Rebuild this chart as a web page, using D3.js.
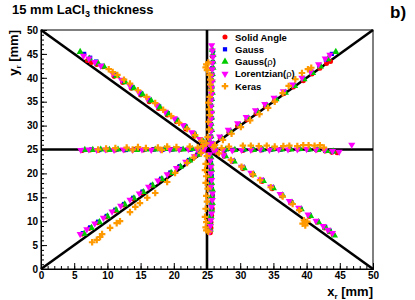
<!DOCTYPE html>
<html>
<head>
<meta charset="utf-8">
<script src="https://cdn.jsdelivr.net/npm/d3@7"></script>
<style>
body { margin: 0; background: #fff; }
svg { display: block; font-family: "Liberation Sans", Arial, sans-serif; font-weight: bold; }
</style>
</head>
<body>
<svg width="415" height="300"></svg>
<script>
// reconstructed positions [x_r, y_r] in mm, ray by ray
const solidAngle = [
  [7.0,43.6],[7.6,43.2],[8.4,42.8],[9.3,42.3],[11.0,40.3],[12.3,39.0],[13.6,37.8],[15.0,36.4],[16.3,35.0],[17.7,33.6],[19.0,32.2],[20.4,30.8],[21.8,29.3],[23.1,27.8],[24.3,26.3],
  [25.8,26.0],[27.0,27.3],[28.3,28.6],[29.6,29.9],[31.0,31.2],[32.4,32.6],[33.8,34.0],[35.2,35.3],[36.6,36.7],[38.0,38.1],[39.5,39.4],[40.8,40.8],[42.0,42.0],[43.0,43.0],[43.6,43.4],
  [6.2,7.3],[7.3,8.5],[8.5,9.7],[9.8,10.9],[11.1,12.2],[12.4,13.4],[13.8,14.7],[15.2,16.0],[16.6,17.4],[18.0,18.7],[19.4,20.0],[20.8,21.4],[22.2,22.7],[23.5,23.9],[24.5,24.8],
  [26.4,24.4],[27.6,23.6],[28.8,22.5],[30.4,21.0],[31.8,19.7],[33.3,18.3],[34.8,16.8],[36.2,15.3],[37.6,13.8],[39.0,12.4],[40.4,11.0],[41.6,9.8],[42.7,8.6],[43.4,7.8],[44.0,7.2],
  [6.2,24.8],[7.4,24.9],[8.6,24.8],[9.9,24.9],[11.2,24.9],[12.6,24.9],[14.0,25.0],[15.4,24.9],[16.8,25.0],[18.2,24.9],[19.6,25.0],[21.0,25.0],[22.4,25.0],[23.7,25.1],
  [26.2,24.9],[27.6,24.8],[29.0,24.9],[30.4,24.8],[31.8,24.9],[33.2,24.9],[34.6,25.0],[36.0,25.0],[37.4,25.0],[38.8,25.1],[40.2,25.0],[41.5,24.9],[42.8,24.7],[43.8,24.4],[44.6,24.3],
  [25.4,26.3],[25.5,27.6],[25.6,28.9],[25.5,30.2],[25.6,31.5],[25.6,32.8],[25.5,34.1],[25.6,35.4],[25.7,36.7],[25.6,38.0],[25.6,39.3],[25.7,40.6],[25.7,41.9],[25.8,43.2],[25.8,44.5],
  [25.4,23.6],[25.5,22.3],[25.6,21.0],[25.6,19.6],[25.5,18.2],[25.7,16.8],[25.8,15.4],[25.7,14.0],[25.8,12.6],[25.7,11.2],[25.6,9.8],[25.6,8.6],[25.5,7.6]
]

const gauss = [
  [6.5,45.0],[7.4,44.2],[8.3,43.4],[9.2,42.5],[11.2,40.6],[12.5,39.3],[13.8,38.0],[15.1,36.7],[16.4,35.4],[17.8,34.0],[19.1,32.6],[20.5,31.2],[21.8,29.8],[23.1,28.3],[24.3,26.8],
  [25.9,26.2],[27.1,27.5],[28.4,28.9],[29.8,30.3],[31.1,31.6],[32.5,33.0],[33.9,34.3],[35.3,35.6],[36.7,37.0],[38.1,38.4],[39.5,39.8],[40.8,41.1],[41.9,42.6],[42.9,43.8],[43.8,45.0],
  [6.3,7.5],[7.4,8.7],[8.6,9.9],[9.9,11.1],[11.2,12.4],[12.5,13.6],[13.9,14.9],[15.3,16.2],[16.7,17.6],[18.1,18.9],[19.5,20.2],[20.9,21.5],[22.3,22.8],[23.6,24.0],
  [26.5,24.6],[27.7,23.7],[29.0,22.6],[30.5,21.2],[31.9,19.9],[33.4,18.5],[34.9,17.0],[36.3,15.5],[37.7,14.0],[39.1,12.6],[40.5,11.2],[41.7,9.9],[42.8,8.8],[43.5,8.0],
  [6.4,24.9],[7.6,25.0],[8.8,24.9],[10.1,25.0],[11.4,25.0],[12.8,24.9],[14.2,25.0],[15.6,25.0],[17.0,25.0],[18.4,25.0],[19.8,25.0],[21.2,25.1],[22.6,25.0],[23.9,25.1],
  [26.3,25.0],[27.7,24.9],[29.1,24.9],[30.5,24.9],[31.9,25.0],[33.3,24.9],[34.7,25.0],[36.1,25.0],[37.5,25.1],[38.9,25.1],[40.3,25.0],[41.6,25.0],[42.9,24.8],[43.9,24.6],
  [25.5,26.4],[25.6,27.7],[25.6,29.0],[25.6,30.3],[25.7,31.6],[25.6,32.9],[25.6,34.2],[25.7,35.5],[25.7,36.8],[25.7,38.1],[25.7,39.4],[25.8,40.7],[25.8,42.0],[25.9,43.3],[25.9,44.6],[25.9,45.6],
  [25.5,23.5],[25.6,22.2],[25.6,20.9],[25.7,19.5],[25.6,18.1],[25.7,16.7],[25.8,15.3],[25.7,13.9],[25.7,12.5],[25.6,11.1],[25.5,9.7],[25.4,8.5]
]

const gaussRho = [
  [5.9,45.4],[7.3,44.0],[8.6,43.0],[9.5,42.3],[11.4,40.4],[12.7,39.1],[14.0,37.8],[15.3,36.5],[16.6,35.2],[17.9,33.8],[19.2,32.4],[20.6,31.0],[21.9,29.6],[23.2,28.1],[24.4,26.7],
  [26.0,26.1],[27.2,27.4],[28.5,28.8],[29.9,30.1],[31.2,31.5],[32.6,32.9],[34.0,34.2],[35.4,35.5],[36.8,36.9],[38.2,38.3],[39.6,39.7],[40.9,41.0],[42.1,42.4],[43.2,43.9],[44.4,45.4],
  [6.5,7.4],[7.6,8.6],[8.8,9.8],[10.0,11.0],[11.3,12.3],[12.6,13.5],[14.0,14.8],[15.4,16.1],[16.8,17.5],[18.2,18.8],[19.6,20.1],[21.0,21.4],[22.4,22.7],[23.7,23.9],
  [26.6,24.5],[27.8,23.6],[29.1,22.5],[30.6,21.1],[32.0,19.8],[33.5,18.4],[35.0,16.9],[36.4,15.4],[37.8,13.9],[39.2,12.5],[40.6,11.1],[41.8,9.8],[42.9,8.6],[43.6,7.8],[44.2,7.0],
  [6.6,24.9],[7.8,24.9],[9.0,25.0],[10.3,24.9],[11.6,25.0],[13.0,25.0],[14.4,24.9],[15.8,25.0],[17.2,25.0],[18.6,25.1],[20.0,25.0],[21.4,25.0],[22.8,25.1],[24.0,25.0],
  [26.4,24.9],[27.8,25.0],[29.2,24.9],[30.6,25.0],[32.0,24.9],[33.4,25.0],[34.8,25.0],[36.2,25.0],[37.6,25.0],[39.0,25.1],[40.4,25.0],[41.7,24.9],[43.0,24.7],[44.0,24.6],
  [25.5,26.5],[25.6,27.8],[25.7,29.1],[25.6,30.4],[25.7,31.7],[25.7,33.0],[25.6,34.3],[25.7,35.6],[25.8,36.9],[25.7,38.2],[25.8,39.5],[25.8,40.8],[25.9,42.1],[25.9,43.4],[25.9,44.8],[25.8,45.9],
  [25.6,23.4],[25.6,22.1],[25.7,20.8],[25.6,19.4],[25.7,18.0],[25.8,16.6],[25.7,15.2],[25.8,13.8],[25.7,12.4],[25.6,11.0],[25.5,9.6],[25.5,8.3]
]

const lorentzRho = [
  [6.4,44.6],[7.2,44.0],[8.1,43.3],[9.0,42.5],[10.8,40.9],[12.1,39.6],[13.4,38.3],[14.7,37.0],[16.0,35.7],[17.4,34.3],[18.7,32.9],[20.1,31.5],[21.4,30.1],[22.7,28.6],[23.9,27.2],[24.8,26.0],
  [25.7,26.3],[26.9,27.7],[28.2,29.1],[29.6,30.5],[30.9,31.8],[32.3,33.2],[33.7,34.5],[35.1,35.8],[36.5,37.2],[37.9,38.6],[39.3,40.0],[40.6,41.3],[41.8,42.8],[42.8,44.0],[43.5,44.8],
  [5.9,7.3],[6.9,8.3],[8.1,9.5],[9.4,10.7],[10.7,12.0],[12.0,13.2],[13.4,14.5],[14.8,15.8],[16.2,17.2],[17.6,18.5],[19.0,19.8],[20.4,21.1],[21.8,22.4],[23.1,23.6],[24.3,24.6],
  [26.3,24.8],[27.5,23.8],[28.7,22.7],[30.2,21.4],[31.6,20.1],[33.1,18.7],[34.6,17.2],[36.0,15.7],[37.4,14.2],[38.8,12.8],[40.2,11.4],[41.4,10.1],[42.5,9.0],[43.2,8.2],[43.9,7.5],
  [6.0,24.9],[7.2,25.0],[8.4,24.9],[9.7,25.0],[11.0,24.9],[12.4,25.0],[13.8,24.9],[15.2,25.0],[16.6,24.9],[18.0,25.0],[19.4,25.0],[20.8,25.0],[22.2,25.1],[23.5,25.0],[24.6,25.1],
  [26.0,24.9],[27.4,24.9],[28.8,24.8],[30.2,24.9],[31.6,24.9],[33.0,25.0],[34.4,24.9],[35.8,25.0],[37.2,25.0],[38.6,25.0],[40.0,25.1],[41.4,25.0],[42.7,24.9],[43.9,24.7],[44.9,24.5],[46.8,26.0],
  [25.4,26.2],[25.5,27.5],[25.6,28.8],[25.5,30.1],[25.6,31.4],[25.7,32.7],[25.6,34.0],[25.6,35.3],[25.7,36.6],[25.7,37.9],[25.8,39.2],[25.7,40.5],[25.8,41.8],[25.8,43.1],[25.9,44.4],[25.8,45.7],[25.7,46.8],
  [25.4,24.0],[25.5,22.7],[25.6,21.4],[25.6,20.0],[25.7,18.6],[25.6,17.2],[25.8,15.8],[25.8,14.4],[25.7,13.0],[25.7,11.6],[25.6,10.2],[25.5,9.0],[25.4,7.8]
]

const keras = [
  [10.2,41.8],[10.8,41.2],[11.5,40.6],[12.5,39.6],[13.4,38.8],[14.6,37.4],[15.9,36.0],[17.2,34.7],[18.4,33.3],[19.6,32.0],[20.8,30.6],[22.0,29.3],[23.2,28.0],[24.2,26.8],
  [26.2,25.9],[27.4,27.0],[28.7,28.3],[30.1,29.7],[31.5,31.1],[32.9,32.4],[34.2,33.7],[35.2,35.0],[36.4,36.8],[37.3,38.3],[38.3,39.7],[39.3,41.0],[40.2,41.8],[40.7,42.1],
  [7.7,5.6],[8.4,6.1],[8.9,6.7],[9.2,7.3],[10.4,8.6],[11.4,9.6],[11.9,10.0],[13.4,11.9],[14.2,13.0],[14.9,13.8],[16.0,14.9],[17.2,15.9],[19.0,18.2],[20.2,20.1],[22.0,22.2],[23.0,23.3],[24.1,24.3],
  [26.8,24.2],[28.6,22.8],[30.2,21.4],[31.9,19.8],[33.0,18.6],[34.6,17.1],[36.4,15.2],[37.9,13.6],[38.9,12.3],[39.4,9.5],[39.8,9.1],[40.1,9.9],[39.6,10.2],
  [8.6,25.0],[9.8,25.2],[11.2,25.3],[12.9,25.4],[14.6,25.5],[15.8,25.3],[17.6,25.4],[19.0,25.6],[20.4,25.5],[22.4,25.6],[23.6,25.4],[24.4,25.7],[13.8,25.0],[18.2,24.9],
  [26.0,25.5],[27.2,25.3],[28.3,25.6],[30.4,25.8],[31.6,25.8],[32.8,25.7],[34.0,25.8],[35.2,25.6],[36.5,25.7],[37.4,25.8],[38.6,25.7],[39.5,25.9],[40.3,25.9],[41.2,25.8],[42.0,25.9],[42.6,25.4],
  [24.9,26.3],[25.1,27.6],[25.3,29.2],[25.2,30.8],[25.4,32.2],[25.3,33.4],[25.2,34.8],[25.4,36.0],[25.6,37.4],[25.5,38.6],[25.5,39.6],[25.4,40.6],[25.0,41.6],[24.8,42.2],[24.9,42.8],[25.2,43.2],
  [25.0,23.6],[24.8,22.0],[24.7,20.7],[24.9,19.4],[24.8,18.0],[25.1,16.8],[24.9,15.3],[25.0,14.1],[24.8,12.6],[24.7,10.9],[24.9,9.8],[24.8,8.7],[24.9,8.1],[25.2,7.8]
]

const seriesNames = ["Solid Angle", "Gauss", "Gauss(\u03c1)", "Lorentzian(\u03c1)", "Keras"]
const seriesData = [solidAngle, gauss, gaussRho, lorentzRho, keras]
const seriesColors = ["#ff0000", "#0000ff", "#00cc00", "#ff00ff", "#ff9900"]

// reference lines (diagonals + centre cross), mm
const refLines = [[0, 0, 50, 50], [0, 50, 50, 0], [0, 25, 50, 25], [25, 0, 25, 50]]

const majorTicks = [0, 5, 10, 15, 20, 25, 30, 35, 40, 45, 50]
const minorTicks = d3.range(0, 51, 1)

const W = 415, H = 300
const margin = {top: 30, right: 42, bottom: 31, left: 41}

const svg = d3.select("svg")

const x = d3.scaleLinear().domain([0, 50]).range([margin.left, W - margin.right])
const y = d3.scaleLinear().domain([0, 50]).range([H - margin.bottom, margin.top])

// frame
svg.append("rect")
  .attr("x", x(0)).attr("y", y(50))
  .attr("width", x(50) - x(0)).attr("height", y(0) - y(50))
  .attr("fill", "none").attr("stroke", "#000").attr("stroke-width", 1)

// axes, ROOT style ticks pointing in
svg.append("g").attr("transform", `translate(0,${y(0)})`)
  .call(d3.axisBottom(x).tickValues(minorTicks).tickSize(-3).tickFormat(""))
svg.append("g").attr("transform", `translate(0,${y(0)})`)
  .call(d3.axisBottom(x).tickValues(majorTicks).tickSize(-6).tickPadding(3).tickFormat(d3.format("d")))
svg.append("g").attr("transform", `translate(${x(0)},0)`)
  .call(d3.axisLeft(y).tickValues(minorTicks).tickSize(-3).tickFormat(""))
svg.append("g").attr("transform", `translate(${x(0)},0)`)
  .call(d3.axisLeft(y).tickValues(majorTicks).tickSize(-6).tickPadding(3).tickFormat(d3.format("d")))

svg.selectAll(".domain").attr("stroke", "#000")
svg.selectAll(".tick line").attr("stroke", "#000")
svg.selectAll(".tick text")
  .attr("font-family", "Liberation Sans, Arial, sans-serif")
  .attr("font-weight", "bold").attr("font-size", 10).attr("fill", "#000")

// reference lines
svg.append("g").selectAll("line").data(refLines).enter().append("line")
  .attr("x1", d => x(d[0])).attr("y1", d => y(d[1]))
  .attr("x2", d => x(d[2])).attr("y2", d => y(d[3]))
  .attr("stroke", "#000").attr("stroke-width", 2.6)

// markers
const symbols = [
  d3.symbol().type(d3.symbolCircle).size(20),
  d3.symbol().type(d3.symbolSquare).size(18),
  d3.symbol().type(d3.symbolTriangle).size(22),
  d3.symbol().type(d3.symbolTriangle).size(22),
  d3.symbol().type(d3.symbolCross).size(24)
]
const rotations = [0, 0, 0, 180, 0]

seriesData.forEach(function(pts, i) {
  svg.append("g").selectAll("path").data(pts).enter().append("path")
    .attr("d", symbols[i])
    .attr("transform", d => `translate(${x(d[0])},${y(d[1])}) rotate(${rotations[i]})`)
    .attr("fill", seriesColors[i])
})

// legend
const legend = svg.append("g")
seriesNames.forEach(function(name, i) {
  const ly = 37 + i * 12.3
  legend.append("path")
    .attr("d", symbols[i])
    .attr("transform", `translate(225,${ly}) rotate(${rotations[i]})`)
    .attr("fill", seriesColors[i])
  const t = legend.append("text").attr("x", 235).attr("y", ly + 3.5)
    .attr("font-size", 9.5).attr("fill", "#000")
  const m = name.match(/^(.*)\((\u03c1)\)$/)
  if (m) {
    t.append("tspan").text(m[1] + "(")
    t.append("tspan").attr("font-weight", "normal").text(m[2])
    t.append("tspan").text(")")
  } else {
    t.text(name)
  }
})

// title
const title = svg.append("text").attr("x", 12).attr("y", 14).attr("font-size", 13)
title.append("tspan").text("15 mm LaCl")
title.append("tspan").attr("font-size", 9).attr("dy", 3).text("3")
title.append("tspan").attr("dy", -3).text(" thickness")

svg.append("text").attr("x", 390).attr("y", 18).attr("font-size", 17).text("b)")

// axis titles
const xt = svg.append("text").attr("x", x(50)).attr("y", 296)
  .attr("text-anchor", "end").attr("font-size", 13)
xt.append("tspan").text("x")
xt.append("tspan").attr("font-size", 8).attr("dy", 3).text("r")
xt.append("tspan").attr("dy", -3).text(" [mm]")

const yt = svg.append("text")
  .attr("transform", `translate(18,${y(50)}) rotate(-90)`)
  .attr("text-anchor", "end").attr("font-size", 13)
yt.append("tspan").text("y")
yt.append("tspan").attr("font-size", 8).attr("dy", 3).text("r")
yt.append("tspan").attr("dy", -3).text(" [mm]")
</script>
</body>
</html>
